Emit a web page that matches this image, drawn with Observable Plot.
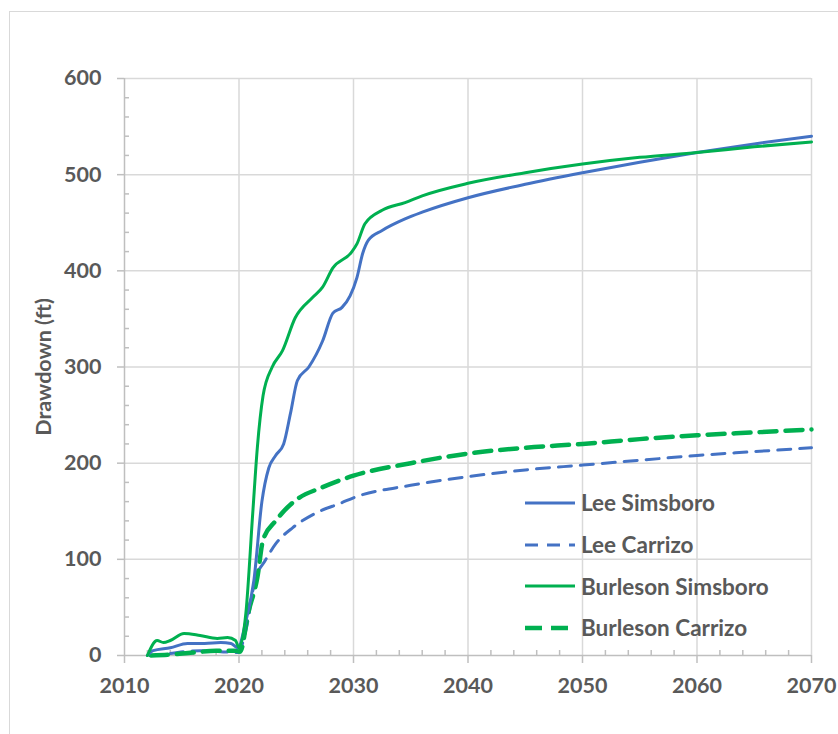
<!DOCTYPE html>
<html>
<head>
<meta charset="utf-8">
<script src="https://cdn.jsdelivr.net/npm/d3@7"></script>
<script src="https://cdn.jsdelivr.net/npm/@observablehq/plot@0.6"></script>
<style>
  html, body { margin: 0; padding: 0; background: #fff; overflow: hidden; }
  #wrap { position: relative; width: 838px; height: 734px; overflow: hidden; font-family: Lato, "Open Sans", sans-serif; }
  #frame { position: absolute; left: 9px; top: 11px; width: 900px; height: 800px; border: 1.5px solid #d9d9d9; box-sizing: border-box; }
  #chart { position: absolute; left: 0; top: 0; }
  #legend { position: absolute; left: 524px; top: 482px; color: #595959; font-weight: 700; font-size: 22.5px; }
  #legend .row { display: flex; align-items: center; height: 41.7px; }
  #legend svg { margin-right: 5px; }
</style>
</head>
<body>
<div id="wrap">
  <div id="frame"></div>
  <div id="chart"></div>
  <div id="legend"></div>
</div>
<script>
// Simulated drawdown (ft) by aquifer and county
const leeSimsboroYears = [2012, 2012.5, 2014, 2015.5, 2017, 2018.4, 2019.3, 2019.9, 2020.6, 2021.3, 2022, 2022.6, 2023.2, 2023.9, 2024.5, 2025.1, 2026.1, 2027.3, 2028.2, 2029, 2029.7, 2030.3, 2030.8, 2031.3, 2032.5, 2034.5, 2036, 2040, 2045, 2050, 2055, 2060, 2065, 2070];
const leeSimsboroFt    = [0, 5, 8, 12.5, 12.5, 13.5, 12.5, 8, 36, 78, 160, 195, 208, 220, 252, 286, 300, 327, 356, 362, 374, 393, 418, 432, 442, 454, 461, 476, 490, 502, 513, 523, 532, 540];

const leeCarrizoYears = [2014, 2016.6, 2018.4, 2019.9, 2020.6, 2021.4, 2022.3, 2023.2, 2024.7, 2026.7, 2029, 2030, 2035, 2040, 2045, 2050, 2055, 2060, 2065, 2070];
const leeCarrizoFt    = [2, 5, 4, 3, 26, 78, 99, 116, 133, 148, 159, 164, 177, 186, 193, 198, 203, 208, 212, 216];

const burlesonSimsboroYears = [2012, 2012.85, 2013.4, 2014, 2015.2, 2016.6, 2018.1, 2019, 2019.7, 2020, 2020.6, 2021.2, 2021.6, 2022.1, 2022.9, 2023.8, 2024.9, 2026.4, 2027.3, 2028.2, 2029.8, 2030.3, 2031, 2032.5, 2034.5, 2036, 2040, 2045, 2050, 2055, 2060, 2065, 2070];
const burlesonSimsboroFt    = [0, 15.6, 13.5, 15.6, 22.9, 20.8, 17.7, 18.7, 15.6, 8, 44, 148, 216, 270, 300, 317, 351, 372, 383, 403, 419, 428, 449, 463, 471, 478, 491, 502, 511, 518, 523, 529, 534];

const burlesonCarrizoYears = [2012.3, 2014, 2016, 2018, 2019.6, 2020.1, 2020.8, 2021.6, 2022.1, 2023.2, 2024.9, 2027.3, 2030, 2035, 2040, 2045, 2050, 2055, 2060, 2065, 2070];
const burlesonCarrizoFt    = [0, 1, 3, 5, 5, 4, 44, 81, 120, 140, 161, 175, 187, 200, 210, 216, 220, 225, 229, 232, 235];

const seriesNames = ["Lee Simsboro", "Lee Carrizo", "Burleson Simsboro", "Burleson Carrizo"];
const xTicks = [2010, 2020, 2030, 2040, 2050, 2060, 2070];
const yTicks = [0, 100, 200, 300, 400, 500, 600];

const BLUE = "#4472C4";
const GREEN = "#00B050";
const GRID = "#d9d9d9";
const AXIS = "#bfbfbf";
const TEXT = "#595959";

const styles = {
  "Lee Simsboro":      {stroke: BLUE,  width: 3,   dash: null},
  "Lee Carrizo":       {stroke: BLUE,  width: 3,   dash: "13,9"},
  "Burleson Simsboro": {stroke: GREEN, width: 3,   dash: null},
  "Burleson Carrizo":  {stroke: GREEN, width: 4.5, dash: "17,9"}
};

const toRows = (years, values) => years.map((year, i) => ({year, ft: values[i]}));
const series = {
  "Lee Simsboro": toRows(leeSimsboroYears, leeSimsboroFt),
  "Lee Carrizo": toRows(leeCarrizoYears, leeCarrizoFt),
  "Burleson Simsboro": toRows(burlesonSimsboroYears, burlesonSimsboroFt),
  "Burleson Carrizo": toRows(burlesonCarrizoYears, burlesonCarrizoFt)
};

const xMinor = d3.range(2012, 2070, 2).filter(d => d % 10 !== 0);
const yMinor = d3.range(20, 600, 20).filter(d => d % 100 !== 0);

// Draw dashed series first, solids on top
const drawOrder = ["Lee Carrizo", "Burleson Carrizo", "Lee Simsboro", "Burleson Simsboro"];

const chart = Plot.plot({
  width: 838,
  height: 734,
  marginLeft: 124,
  marginRight: 27,
  marginTop: 78,
  marginBottom: 79,
  style: {fontFamily: "Lato, 'Open Sans', sans-serif", fontSize: "21.5px", fontWeight: "700", color: TEXT, background: "transparent"},
  x: {domain: [2010, 2070]},
  y: {domain: [0, 600]},
  marks: [
    Plot.gridY(yTicks.filter(d => d > 0), {stroke: GRID, strokeOpacity: 1, strokeWidth: 1.5}),
    Plot.gridX(xTicks.filter(d => d > 2010), {stroke: GRID, strokeOpacity: 1, strokeWidth: 1.5}),
    Plot.ruleX([2010], {stroke: AXIS, strokeWidth: 1.5}),
    Plot.ruleY([0], {stroke: AXIS, strokeWidth: 1.5}),
    Plot.axisY(yTicks, {tickSize: 7, tickPadding: 16, stroke: AXIS, strokeWidth: 1.5, label: "Drawdown (ft)", labelAnchor: "center", labelOffset: 89, labelArrow: "none", fill: TEXT, tickFormat: d => d}),
    Plot.axisY(yMinor, {tickSize: -5, text: null, label: null, stroke: AXIS, strokeWidth: 1.5}),
    Plot.axisX(xTicks, {tickSize: 8, tickPadding: 14, stroke: AXIS, strokeWidth: 1.5, label: null, fill: TEXT, tickFormat: d => String(d)}),
    Plot.axisX(xMinor, {tickSize: -5, text: null, label: null, stroke: AXIS, strokeWidth: 1.5}),
    ...drawOrder.map(name => Plot.line(series[name], {
      x: "year", y: "ft",
      stroke: styles[name].stroke,
      strokeWidth: styles[name].width,
      strokeDasharray: styles[name].dash,
      curve: "monotone-x"
    }))
  ]
});
document.getElementById("chart").append(chart);

// Legend inside the plot area
const legend = d3.select("#legend");
for (const name of seriesNames) {
  const s = styles[name];
  const row = legend.append("div").attr("class", "row");
  const sw = row.append("svg").attr("width", 52).attr("height", 12);
  sw.append("line")
    .attr("x1", 1).attr("x2", 51).attr("y1", 6).attr("y2", 6)
    .attr("stroke", s.stroke).attr("stroke-width", s.width)
    .attr("stroke-dasharray", s.dash);
  row.append("span").text(name);
}
</script>
</body>
</html>
